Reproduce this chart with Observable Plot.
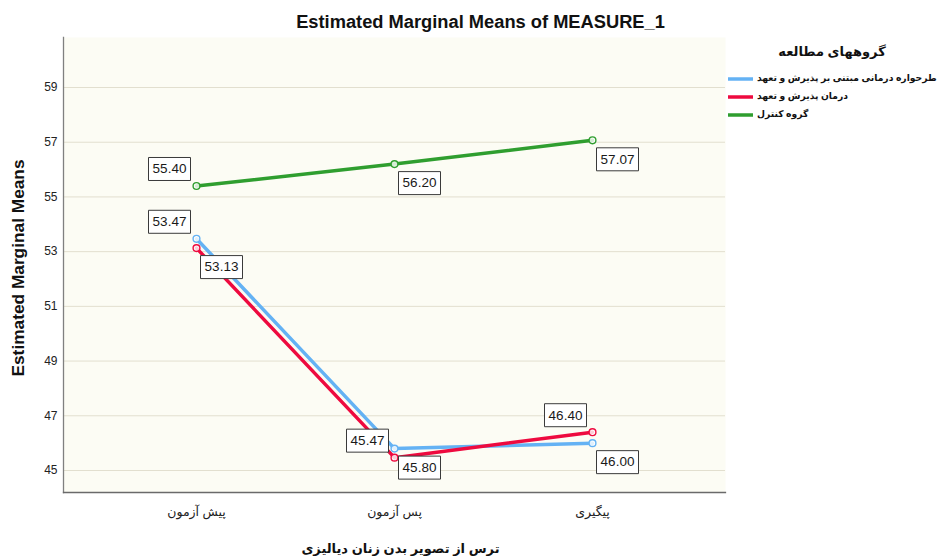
<!DOCTYPE html>
<html><head><meta charset="utf-8">
<script src="https://cdn.jsdelivr.net/npm/d3@7"></script>
<script src="https://cdn.jsdelivr.net/npm/@observablehq/plot@0.6"></script>
<style>body{margin:0;background:#fff} svg{display:block}</style>
</head><body><div id="chart"></div>
<script>
// ---- data ----
const times = ["پیش آزمون", "پس آزمون", "پیگیری"];
const groups = ["طرحواره درمانی مبتنی بر پذیرش و تعهد", "درمان پذیرش و تعهد", "گروه کنترل"];
const schemaACT = [53.47, 45.80, 46.00];
const act = [53.13, 45.47, 46.40];
const control = [55.40, 56.20, 57.07];
const yTicks = [45, 47, 49, 51, 53, 55, 57, 59];
const title = "Estimated Marginal Means of MEASURE_1";
const yTitle = "Estimated Marginal Means";
const xTitle = "ترس از تصویر بدن زنان دیالیزی";
const legendTitle = "گروههای مطالعه";

// ---- style ----
const colors = ["#64b2f4", "#ee0a3f", "#2f9e2f"];
const labelSide = [["ul", "lr", "lr"], ["lr", "ul", "ul"], ["ul", "lr", "lr"]];
const font = "'Liberation Sans', Arial, 'DejaVu Sans', sans-serif";

const series = [schemaACT, act, control];
const rows = [];
series.forEach((vals, gi) => vals.forEach((v, ti) => rows.push({group: groups[gi], time: times[ti], value: v, side: labelSide[gi][ti]})));

const boxSymbol = {draw(ctx) {
  ctx.moveTo(-21, -11.5); ctx.lineTo(21, -11.5); ctx.lineTo(21, 11.5); ctx.lineTo(-21, 11.5); ctx.closePath();
}};
const offs = {ul: [-27, -17], lr: [25, 19]};
const labelMarks = [];
for (const side of ["ul", "lr"]) {
  const d = rows.filter(r => r.side === side);
  const [dx, dy] = offs[side];
  labelMarks.push(Plot.dot(d, {x: "time", y: "value", symbol: boxSymbol, dx, dy, fill: "white", stroke: "#3a3a3a", strokeWidth: 1}));
  labelMarks.push(Plot.text(d, {x: "time", y: "value", text: r => r.value.toFixed(2), dx, dy, fontSize: 13.5, fill: "#1a1a1a"}));
}

const plot = Plot.plot({
  width: 938, height: 559,
  marginLeft: 63, marginRight: 213, marginTop: 37, marginBottom: 67,
  style: {fontFamily: font, background: "white", overflow: "visible"},
  x: {type: "point", domain: times, padding: 0.665},
  y: {domain: [44.196, 60.828]},
  color: {domain: groups, range: colors},
  marks: [
    Plot.frame({fill: "#fcfcf4", stroke: null}),
    Plot.gridY(yTicks, {stroke: "#e2dfcf", strokeOpacity: 1, strokeWidth: 1}),
    Plot.axisY(yTicks, {tickSize: 0, tickPadding: 6, fontSize: 12, label: null, tickFormat: d => String(d), color: "#222"}),
    Plot.axisX({tickSize: 0, tickPadding: 15, fontSize: 12.5, label: null, color: "#222"}),
    Plot.frame({anchor: "left", stroke: "#808080", strokeWidth: 1.3}),
    Plot.frame({anchor: "bottom", stroke: "#6a6a6a", strokeWidth: 1.3}),
    Plot.line(rows, {x: "time", y: "value", z: "group", stroke: "group", strokeWidth: 3.5}),
    Plot.dot(rows, {x: "time", y: "value", stroke: "group", fill: "white", fillOpacity: 0.8, r: 3.4, strokeWidth: 1.4}),
    ...labelMarks,
    Plot.text([title], {frameAnchor: "top", lineAnchor: "middle", dx: 86, dy: -15, fontSize: 18.3, fontWeight: "bold", fill: "#111"}),
    Plot.text([yTitle], {frameAnchor: "left", textAnchor: "middle", lineAnchor: "middle", dx: -45, dy: 3, rotate: -90, fontSize: 17.3, fontWeight: "bold", fill: "#111"}),
    Plot.text([xTitle], {frameAnchor: "bottom", lineAnchor: "middle", dx: 6, dy: 56, fontSize: 13, fontWeight: "bold", fill: "#111"})
  ]
});

document.getElementById("chart").appendChild(plot);

// legend
const svg = d3.select(plot);
const color = plot.scale("color");
const lg = svg.append("g").attr("font-family", font);
lg.append("text").attr("x", 832).attr("y", 53).attr("text-anchor", "middle").attr("dominant-baseline", "middle")
  .attr("font-size", 13).attr("font-weight", "bold").attr("fill", "#111").text(legendTitle);
groups.forEach((g, i) => {
  const y = 79 + i * 18;
  lg.append("line").attr("x1", 728).attr("x2", 753).attr("y1", y).attr("y2", y)
    .attr("stroke", color.apply(g)).attr("stroke-width", 3.5);
  const t = lg.append("text").attr("x", 757).attr("y", y).attr("dominant-baseline", "middle")
    .attr("font-size", 9.2).attr("font-weight", "bold").attr("fill", "#111").text(g);
  const bb = t.node().getBBox();
  t.attr("x", 757 + (757 - bb.x));
});
</script>
</body></html>
